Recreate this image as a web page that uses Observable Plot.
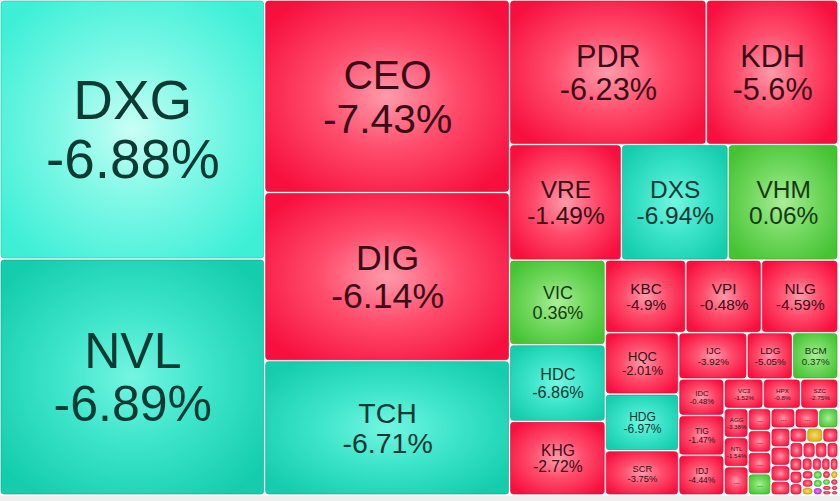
<!DOCTYPE html>
<html><head><meta charset="utf-8">
<script src="https://cdn.jsdelivr.net/npm/d3@7"></script>
<script src="https://cdn.jsdelivr.net/npm/@observablehq/plot@0.6"></script>
<style>
html,body{margin:0;padding:0;background:#efefef;}
#chart{width:840px;height:496px;background:#fff;overflow:hidden;}
</style></head><body><div id="chart"></div>
<script>
// --- data ---
const tickers = ["DXG","NVL","CEO","DIG","TCH","PDR","KDH","VRE","DXS","VHM",
  "VIC","HDC","KHG","KBC","VPI","NLG","HQC","HDG","SCR","IJC","LDG","BCM",
  "IDC","TIG","IDJ","VC3","HPX","SZC","AGG","NTL","",
  "","","","","","","","","","","","","","","","","","","","","","","","","","","","","","","","","","","","","","",""];
const changes = [-6.88,-6.89,-7.43,-6.14,-6.71,-6.23,-5.6,-1.49,-6.94,0.06,
  0.36,-6.86,-2.72,-4.9,-0.48,-4.59,-2.01,-6.97,-3.75,-3.92,-5.05,0.37,
  -0.48,-1.47,-4.44,-1.52,-0.8,-2.75,-3.38,-1.54,null,
  null,null,null,null,null,null,null,null,null,null,null,null,null,null,null,null,null,null,null,null,null,null,null,null,null,null,null,null,null,null,null,null,null,null,null,null,null,null,null,null];
const status = ["floor","floor","down","down","floor","down","down","down","floor","up",
  "up","floor","down","down","down","down","down","floor","down","down","down","up",
  "down","down","down","down","down","down","down","down","down",
  "down","down","down","up","down","down","up","down","down","down",
  "down","down","ref","down","down","down","down","down","down","down",
  "down","down","down","down","down","down","down","ref","up","up",
  "ceil","down","ref","up","down","down","down","down","down","down"];
const tradeValue = [68376,62304,47000,41100,32800,28368,19008,12880,12305,12650,
  8075,7315,7030,5832,5472,5544,4500,4150,3250,3150,2100,2100,
  1650,1800,1800,1150,1100,1100,700,700,680,
  500,495,490,480,470,460,380,360,350,300,
  260,240,230,220,200,190,180,170,160,150,
  140,130,120,110,100,95,90,85,80,75,
  70,65,60,55,50,45,40,35,30,25];

const highlighted = "DXG";

// --- layout ---
const rows = tickers.map((t, i) => ({ticker: t, change: changes[i], status: status[i], value: tradeValue[i]}));
const root = d3.hierarchy({children: rows}).sum(d => d.value ?? 0);
d3.treemap().tile(d3.treemapSquarify.ratio(1.13)).size([838, 495]).round(false)(root);
const cells = root.leaves().map(n => ({...n.data, x0: n.x0, x1: n.x1, y0: n.y0, y1: n.y1,
  w: n.x1 - n.x0, h: n.y1 - n.y0}));

const gradKey = d => (d.ticker === highlighted ? "floorHi" : d.status);
const strokeOf = {down: "#d90c37", floor: "#12a98f", floorHi: "#2cc2ab", up: "#38a82a", ref: "#b8960e", ceil: "#b01cb0"};
const inkOf = {down: "#3a0c15", floor: "#0f3a33", floorHi: "#0f3a33", up: "#163a10", ref: "#3b300a", ceil: "#3a0a3a"};

function labelOf(d) {
  if (d.ticker && d.h >= 28.5 && d.w >= 23) return d.ticker + "\n" + d.change + "%";
  if (d.w * d.h >= 400 && Math.min(d.w, d.h) >= 14) return "...";
  return null;
}
const labeled = cells.map(d => ({...d, label: labelOf(d)})).filter(d => d.label);
const sizeOf = d => d.label === "..." ? 7 : Math.min(0.212 * d.h, d.w / 3.6);

const chart = Plot.plot({
  width: 840, height: 496, margin: 0,
  x: {type: "identity", axis: null},
  y: {type: "identity", axis: null},
  color: {type: "identity"},
  style: {background: "#fff", fontFamily: "'Liberation Sans', Arial, sans-serif"},
  marks: [
    Plot.rect(cells, {x1: "x0", x2: "x1", y1: "y0", y2: "y1",
      fill: d => `url(#g-${gradKey(d)})`, stroke: d => strokeOf[gradKey(d)],
      strokeWidth: 0.8, strokeOpacity: 0.8, inset: 1, rx: 3}),
    Plot.text(labeled, {x: d => (d.x0 + d.x1) / 2, y: d => (d.y0 + d.y1) / 2,
      text: "label", fontSize: sizeOf, fill: d => inkOf[gradKey(d)], lineHeight: 1.07})
  ]
});

const grads = {
  down: ["#ff9aab", "#ff4d6c", "#f70f3e"],
  floor: ["#74f5e1", "#3ee5cb", "#15cdac"],
  floorHi: ["#c8fff6", "#7ff8e6", "#3eefd6"],
  up: ["#aaee98", "#76da63", "#45c333"],
  ref: ["#f4de70", "#e6c63c", "#d3ad14"],
  ceil: ["#f58af5", "#e64ee6", "#d320d3"]
};
const defs = d3.select(chart).insert("defs", ":first-child");
for (const [k, [c0, c1, c2]] of Object.entries(grads)) {
  const g = defs.append("radialGradient").attr("id", "g-" + k).attr("cx", "50%").attr("cy", "50%").attr("r", "62%");
  g.append("stop").attr("offset", "0").attr("stop-color", c0);
  g.append("stop").attr("offset", "0.45").attr("stop-color", c1);
  g.append("stop").attr("offset", "1").attr("stop-color", c2);
}
document.getElementById("chart").append(chart);
</script>
</body></html>
